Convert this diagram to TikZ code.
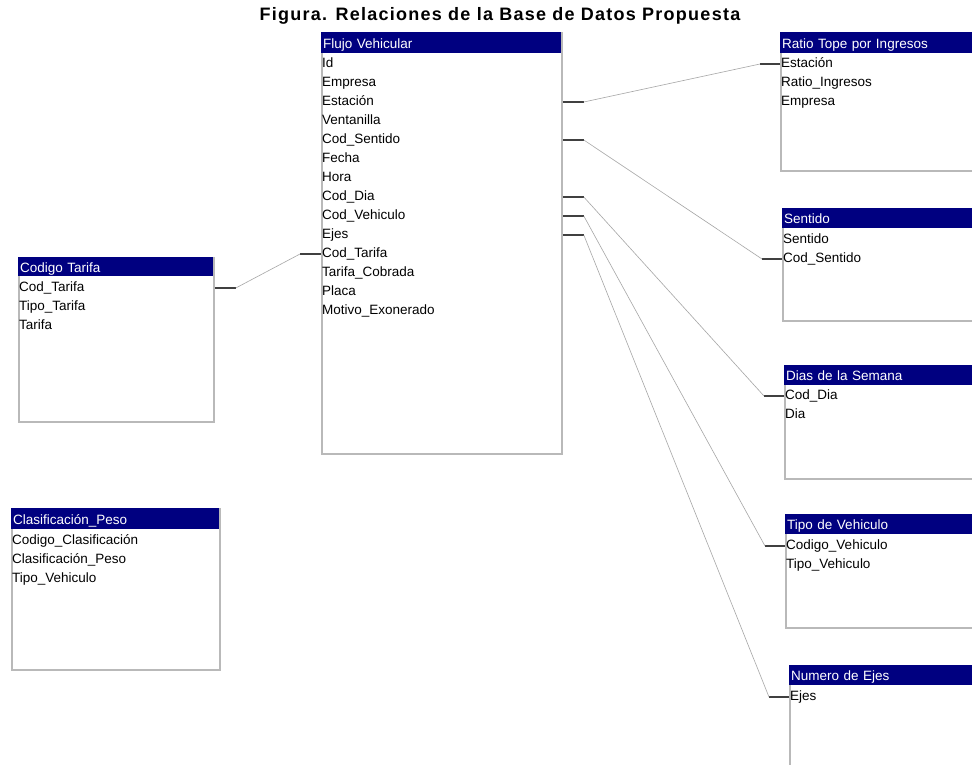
\documentclass[tikz,border=0pt]{standalone}
\usepackage{fontspec}
\setmainfont{Liberation Sans}
\usepackage{xcolor}
\definecolor{AccessNavy}{HTML}{000080}
\usepackage{tikz}
\usetikzlibrary{positioning}
\usetikzlibrary{calc}

\begin{document}
\begin{tikzpicture}[
    x=1pt, y=-1pt,
    tbl/.style={rectangle,
    draw=gray!55,
    line width=1.8pt,
    fill=white,
    anchor=north west,
    inner sep=0pt},
    tblHead/.style={rectangle,
    fill=AccessNavy,
    text=white,
    anchor=north west,
    inner xsep=2pt,
    inner ysep=0pt,
    text width=#1,
    text height=12pt,
    text depth=1pt,
    align=left,
    font=\fontsize{13.5}{15}\selectfont},
    fld/.style={anchor=west,
    inner sep=0pt,
    text height=10pt,
    text depth=3pt,
    font=\fontsize{13.5}{15}\selectfont},
    keyStub/.style={line width=2pt, draw=black!75},
    relLine/.style={line width=0.6pt, draw=gray!70}
    ]
    \clip (0,0) rectangle (972,765);
    \fill[white] (0,0) rectangle (972,765);
    \node[font=\bfseries\fontsize{18}{20}\selectfont\addfontfeature{LetterSpace=7}] (title) at (500,16) {Figura. Relaciones de la Base de Datos Propuesta};

    % tabla principal
    \node[tbl, minimum width=240pt, minimum height=421pt] (flujo) at (321,32) {};
    \node[tblHead=236pt, minimum height=21pt] (flujoH) at (321,32) {Flujo Vehicular};
    \foreach \t [count=\i] in {Id, Empresa, Estación, Ventanilla, Cod\_Sentido, Fecha, Hora, Cod\_Dia, Cod\_Vehiculo, Ejes, Cod\_Tarifa, Tarifa\_Cobrada, Placa, Motivo\_Exonerado}
      \node[fld] (f\i) at (322,45+19*\i) {\t};

    % tablas de la izquierda
    \node[tbl, minimum width=195pt, minimum height=164pt] (tarifa) at (18,257) {};
    \node[tblHead=191pt, minimum height=19pt] (tarifaH) at (18,257) {Codigo Tarifa};
    \foreach \t [count=\i] in {Cod\_Tarifa, Tipo\_Tarifa, Tarifa}
      \node[fld] (t\i) at (19,269+19*\i) {\t};

    \node[tbl, minimum width=208pt, minimum height=161pt] (peso) at (11,508) {};
    \node[tblHead=204pt, minimum height=21pt] (pesoH) at (11,508) {Clasificación\_Peso};
    \foreach \t [count=\i] in {Codigo\_Clasificación, Clasificación\_Peso, Tipo\_Vehiculo}
      \node[fld] (p\i) at (12,522+19*\i) {\t};

    % tablas de la derecha
    \node[tbl, minimum width=210pt, minimum height=138pt] (ratio) at (780,32) {};
    \node[tblHead=206pt, minimum height=21pt] (ratioH) at (780,32) {Ratio Tope por Ingresos};
    \foreach \t [count=\i] in {Estación, Ratio\_Ingresos, Empresa}
      \node[fld] (r\i) at (781,45+19*\i) {\t};

    \node[tbl, minimum width=208pt, minimum height=112pt] (sentido) at (782,208) {};
    \node[tblHead=204pt, minimum height=20pt] (sentidoH) at (782,208) {Sentido};
    \foreach \t [count=\i] in {Sentido, Cod\_Sentido}
      \node[fld] (s\i) at (783,221+19*\i) {\t};

    \node[tbl, minimum width=206pt, minimum height=113pt] (dias) at (784,365) {};
    \node[tblHead=202pt, minimum height=20pt] (diasH) at (784,365) {Dias de la Semana};
    \foreach \t [count=\i] in {Cod\_Dia, Dia}
      \node[fld] (d\i) at (785,377+19*\i) {\t};

    \node[tbl, minimum width=205pt, minimum height=113pt] (tipo) at (785,514) {};
    \node[tblHead=201pt, minimum height=20pt] (tipoH) at (785,514) {Tipo de Vehiculo};
    \foreach \t [count=\i] in {Codigo\_Vehiculo, Tipo\_Vehiculo}
      \node[fld] (v\i) at (786,527+19*\i) {\t};

    \node[tbl, minimum width=201pt, minimum height=120pt] (ejes) at (789,665) {};
    \node[tblHead=197pt, minimum height=20pt] (ejesH) at (789,665) {Numero de Ejes};
    \node[fld] (e1) at (790,697) {Ejes};

    % relaciones
    \draw[keyStub] (t1 -| tarifa.east) -- ++(21,0) coordinate (c1a);
    \draw[keyStub] (f11 -| flujo.west) -- ++(-21,0) coordinate (c1b);
    \draw[relLine] (c1a) -- (c1b);

    \draw[keyStub] (f3 -| flujo.east) -- ++(21,0) coordinate (c2a);
    \draw[keyStub] (r1 -| ratio.west) -- ++(-20,0) coordinate (c2b);
    \draw[relLine] (c2a) -- (c2b);

    \draw[keyStub] (f5 -| flujo.east) -- ++(21,0) coordinate (c3a);
    \draw[keyStub] (s2 -| sentido.west) -- ++(-20,0) coordinate (c3b);
    \draw[relLine] (c3a) -- (c3b);

    \draw[keyStub] (f8 -| flujo.east) -- ++(21,0) coordinate (c4a);
    \draw[keyStub] (d1 -| dias.west) -- ++(-20,0) coordinate (c4b);
    \draw[relLine] (c4a) -- (c4b);

    \draw[keyStub] (f9 -| flujo.east) -- ++(21,0) coordinate (c5a);
    \draw[keyStub] (v1 -| tipo.west) -- ++(-20,0) coordinate (c5b);
    \draw[relLine] (c5a) -- (c5b);

    \draw[keyStub] (f10 -| flujo.east) -- ++(21,0) coordinate (c6a);
    \draw[keyStub] (e1 -| ejes.west) -- ++(-20,0) coordinate (c6b);
    \draw[relLine] (c6a) -- (c6b);
  \end{tikzpicture}
\end{document}
